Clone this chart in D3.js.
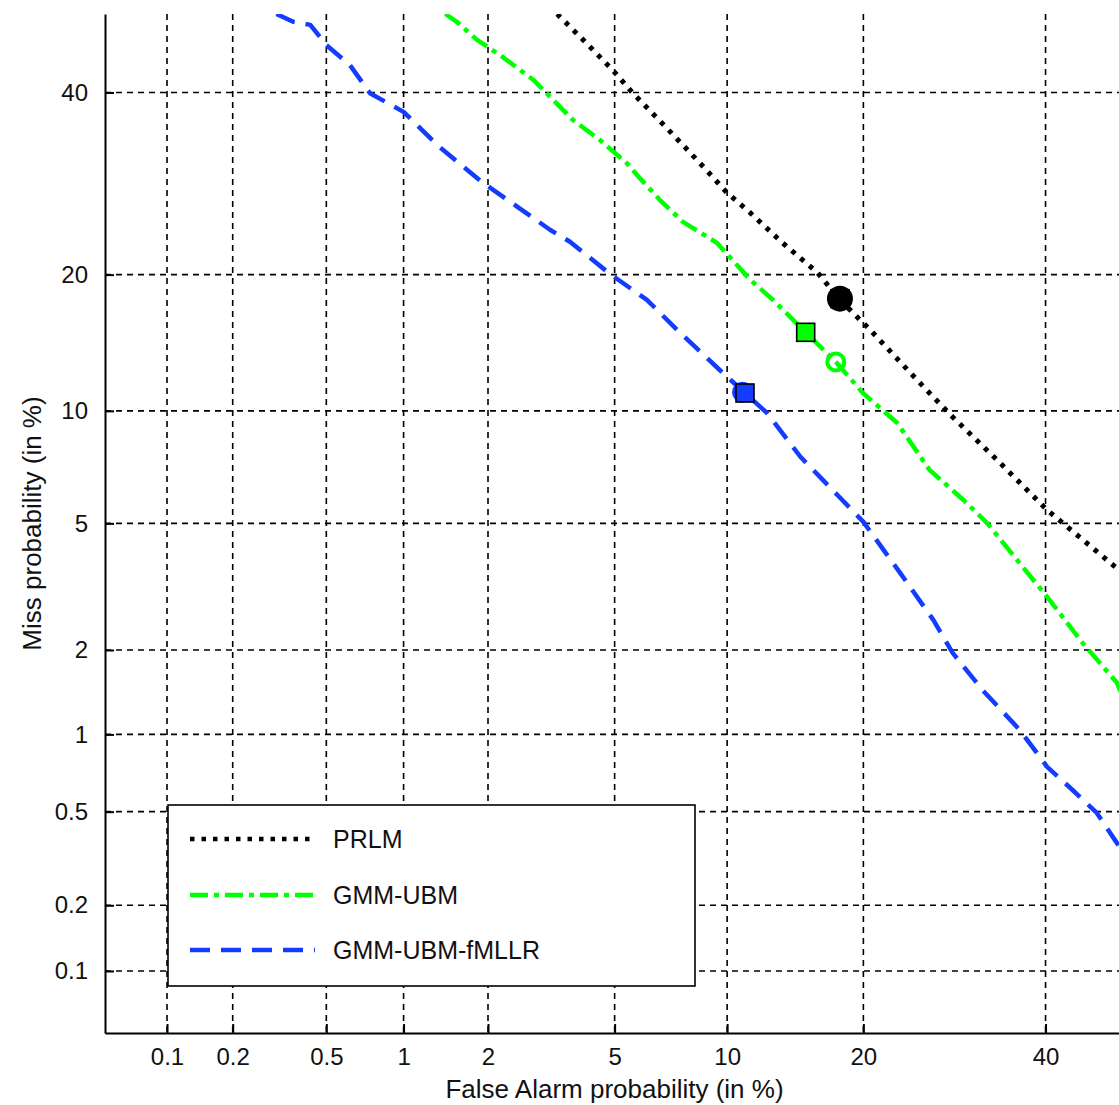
<!DOCTYPE html>
<html>
<head>
<meta charset="utf-8">
<script src="https://cdn.jsdelivr.net/npm/d3@7"></script>
<style>
html,body{margin:0;padding:0;background:#fff;}
svg{display:block;font-family:"Liberation Sans",Arial,sans-serif;}
</style>
</head>
<body>
<svg id="chart" width="1119" height="1105"></svg>
<script>
// ---- data (percent) ----
const tickValues = [0.1, 0.2, 0.5, 1, 2, 5, 10, 20, 40];
const tickLabels = ["0.1", "0.2", "0.5", "1", "2", "5", "10", "20", "40"];
const seriesNames = ["PRLM", "GMM-UBM", "GMM-UBM-fMLLR"];
const seriesColors = ["#000000", "#00ff00", "#143cff"];

const prlmFA   = [3.36, 4.03, 4.94, 5.64, 7.0, 8.55, 9.99, 11.4, 13.5, 16.1, 17.95, 20.6, 25.5, 29.0, 34.1, 40.2, 45.2, 49.35, 50];
const prlmMiss = [50, 46.7, 42.8, 39.9, 35.6, 31.5, 28.2, 26.0, 23.0, 20.2, 17.8, 15.4, 11.67, 9.66, 7.49, 5.46, 4.38, 3.63, 3.50];

const gmmFA   = [1.42, 1.56, 1.83, 2.2, 2.82, 3.76, 4.53, 5.42, 5.9, 6.7, 7.72, 9.43, 10.3, 11.4, 12.85, 15.2, 17.6, 19.96, 23.2, 26.5, 30.2, 32.9, 36.8, 40.2, 44.7, 49.1, 50];
const gmmMiss = [50, 49.0, 46.7, 44.7, 41.6, 36.6, 34.2, 31.5, 29.8, 27.4, 25.1, 23.0, 21.35, 19.5, 17.8, 15.2, 13.06, 11.05, 9.33, 7.05, 5.83, 5.02, 3.81, 2.99, 2.11, 1.54, 1.34];

const fmllrFA   = [0.31, 0.365, 0.43, 0.50, 0.62, 0.745, 1.0, 1.33, 1.92, 2.5, 3.19, 3.68, 4.85, 6.17, 7.44, 9.6, 11.05, 12.45, 14.8, 17.9, 20.0, 23.5, 26.9, 29.0, 32.4, 36.8, 40.2, 43.4, 46.5, 49.1, 50];
const fmllrMiss = [50, 49.0, 48.6, 46.0, 43.5, 39.9, 37.6, 33.6, 29.3, 26.7, 24.3, 23.1, 20.06, 17.8, 15.4, 12.5, 11.05, 9.88, 7.64, 5.94, 5.05, 3.55, 2.52, 1.955, 1.45, 1.04, 0.753, 0.611, 0.494, 0.371, 0.331];

// operating-point markers (per series)
const squareFA   = [17.95, 15.2, 11.05];
const squareMiss = [17.9, 15.2, 11.05];
const circleFA   = [17.95, 17.6, 10.9];
const circleMiss = [17.9, 13.06, 11.1];

// ---- probit ----
function probit(p){
  const a=[-3.969683028665376e+01,2.209460984245205e+02,-2.759285104469687e+02,1.383577518672690e+02,-3.066479806614716e+01,2.506628277459239e+00];
  const b=[-5.447609879822406e+01,1.615858368580409e+02,-1.556989798598866e+02,6.680131188771972e+01,-1.328068155288572e+01];
  const c=[-7.784894002430293e-03,-3.223964580411365e-01,-2.400758277161838e+00,-2.549732539343734e+00,4.374664141464968e+00,2.938163982698783e+00];
  const d=[7.784695709041462e-03,3.224671290700398e-01,2.445134137142996e+00,3.754408661907416e+00];
  const plow=0.02425, phigh=1-plow;
  let q,r;
  if(p<plow){q=Math.sqrt(-2*Math.log(p));return (((((c[0]*q+c[1])*q+c[2])*q+c[3])*q+c[4])*q+c[5])/((((d[0]*q+d[1])*q+d[2])*q+d[3])*q+1);}
  if(p<=phigh){q=p-0.5;r=q*q;return (((((a[0]*r+a[1])*r+a[2])*r+a[3])*r+a[4])*r+a[5])*q/(((((b[0]*r+b[1])*r+b[2])*r+b[3])*r+b[4])*r+1);}
  q=Math.sqrt(-2*Math.log(1-p));return -(((((c[0]*q+c[1])*q+c[2])*q+c[3])*q+c[4])*q+c[5])/((((d[0]*q+d[1])*q+d[2])*q+d[3])*q+1);
}

(function(){
const pLeft=105, pRight=1124, pTop=14, pBottom=1033;
const svg = d3.select("#chart");
const xLin = d3.scaleLinear().domain([probit(0.0005), 0]).range([pLeft, pRight]);
const yLin = d3.scaleLinear().domain([probit(0.0005), 0]).range([pBottom, pTop]);
const X = v => xLin(probit(v/100));
const Y = v => yLin(probit(v/100));

svg.append("rect").attr("width",1119).attr("height",1105).attr("fill","#fff");

svg.append("defs").append("clipPath").attr("id","clip")
  .append("rect").attr("x",pLeft).attr("y",pTop).attr("width",pRight-pLeft).attr("height",pBottom-pTop);

// grid
const grid = svg.append("g");
tickValues.forEach(t=>{
  grid.append("line").attr("x1",X(t)).attr("x2",X(t)).attr("y1",pTop).attr("y2",pBottom)
    .attr("stroke","#000").attr("stroke-width",1.6).attr("stroke-dasharray","6,5");
  grid.append("line").attr("y1",Y(t)).attr("y2",Y(t)).attr("x1",pLeft).attr("x2",pRight)
    .attr("stroke","#000").attr("stroke-width",1.6).attr("stroke-dasharray","6,5");
});

// axes
const tv = tickValues.map(t=>probit(t/100));
const xAxis = d3.axisBottom(xLin).tickValues(tv).tickFormat((d,i)=>tickLabels[i]).tickSizeInner(-9).tickSizeOuter(0).tickPadding(15);
const yAxis = d3.axisLeft(yLin).tickValues(tv).tickFormat((d,i)=>tickLabels[i]).tickSizeInner(-9).tickSizeOuter(0).tickPadding(17);
const gx = svg.append("g").attr("transform",`translate(0,${pBottom})`).call(xAxis);
const gy = svg.append("g").attr("transform",`translate(${pLeft},0)`).call(yAxis);
[gx,gy].forEach(g=>{
  g.select(".domain").attr("stroke","#000").attr("stroke-width",2);
  g.selectAll(".tick line").attr("stroke","#000").attr("stroke-width",2);
  g.selectAll(".tick text").attr("fill","#111").style("font-size","24px").style("font-family","'Liberation Sans',Arial,sans-serif");
});

// axis labels
svg.append("text").attr("x",(pLeft+pRight)/2).attr("y",1098).attr("text-anchor","middle")
  .style("font-size","26px").attr("fill","#111").text("False Alarm probability (in %)");
svg.append("text").attr("transform",`translate(41,${(pTop+pBottom)/2}) rotate(-90)`).attr("text-anchor","middle")
  .style("font-size","26px").attr("fill","#111").text("Miss probability (in %)");

// curves
const dashes = ["4.5,7", "18,6,5,6", "20,11"];
const series = [[prlmFA,prlmMiss],[gmmFA,gmmMiss],[fmllrFA,fmllrMiss]];
const line = d3.line().x(d=>X(d[0])).y(d=>Y(d[1]));
const plot = svg.append("g").attr("clip-path","url(#clip)");
series.forEach((s,i)=>{
  const pts = s[0].map((v,j)=>[v, s[1][j]]);
  plot.append("path").attr("d",line(pts)).attr("fill","none")
    .attr("stroke",seriesColors[i]).attr("stroke-width",i===0?5:4.5)
    .attr("stroke-dasharray",dashes[i]).attr("stroke-linejoin","round");
});
circleFA.forEach((v,i)=>{
  plot.append("circle").attr("cx",X(v)).attr("cy",Y(circleMiss[i])).attr("r",i===0?11:8.5)
    .attr("fill",i===0?"#000":"none").attr("stroke",seriesColors[i]).attr("stroke-width",4);
});
squareFA.forEach((v,i)=>{
  plot.append("rect").attr("x",X(v)-9).attr("y",Y(squareMiss[i])-9).attr("width",18).attr("height",18)
    .attr("fill",seriesColors[i]).attr("stroke","#000").attr("stroke-width",1.6);
});

// legend
const lg = svg.append("g");
lg.append("rect").attr("x",168).attr("y",805).attr("width",527).attr("height",181)
  .attr("fill","#fff").attr("stroke","#000").attr("stroke-width",1.6);
const legY = [839, 895, 950];
seriesNames.forEach((n,i)=>{
  lg.append("line").attr("x1",190).attr("x2",315).attr("y1",legY[i]).attr("y2",legY[i])
    .attr("stroke",seriesColors[i]).attr("stroke-width",4.5).attr("stroke-dasharray",dashes[i]);
  lg.append("text").attr("x",333).attr("y",legY[i]+9).style("font-size","25px").attr("fill","#111").text(n);
});
})();
</script>
</body>
</html>
